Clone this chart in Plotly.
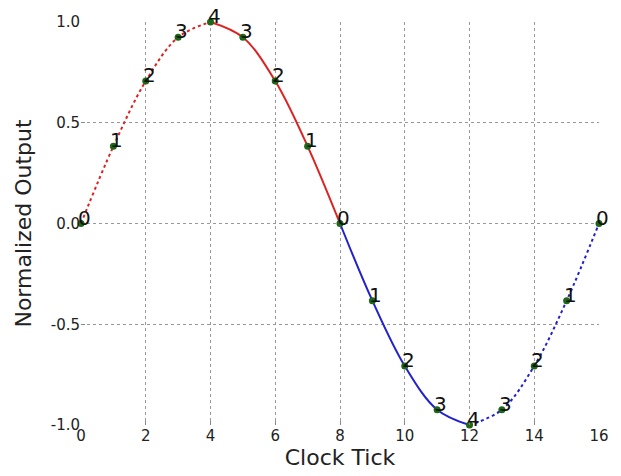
import plotly.graph_objects as go

ticks = list(range(17))
values = [0.0, 0.383, 0.707, 0.924, 1.0, 0.924, 0.707, 0.383, 0.0,
          -0.383, -0.707, -0.924, -1.0, -0.924, -0.707, -0.383, 0.0]
labels = ["0", "1", "2", "3", "4", "3", "2", "1", "0",
          "1", "2", "3", "4", "3", "2", "1", "0"]
segments = [(0, 4, "#dd2222", "dot"), (4, 8, "#dd2222", "solid"),
            (8, 12, "#2222cc", "solid"), (12, 16, "#2222cc", "dot")]

font = "DejaVu Sans, Verdana, sans-serif"
fig = go.Figure()
for a, b, col, dash in segments:
    fig.add_trace(go.Scatter(x=ticks[a:b + 1], y=values[a:b + 1], mode="lines",
                             line=dict(color=col, width=2, dash=dash, shape="spline"),
                             hoverinfo="skip", showlegend=False))
fig.add_trace(go.Scatter(x=ticks, y=values, mode="markers",
                         marker=dict(color="#1e6618", size=7),
                         cliponaxis=False, showlegend=False))
for xv, yv, lab in zip(ticks, values, labels):
    fig.add_annotation(x=xv, y=yv, text=lab, showarrow=False, xanchor="left",
                       yanchor="bottom", xshift=-5, yshift=-8,
                       font=dict(size=20, color="#111", family=font))

fig.update_layout(
    width=621, height=476, margin=dict(l=81, r=18, t=22, b=51),
    plot_bgcolor="white", paper_bgcolor="white",
    font=dict(family=font, color="#222"),
    xaxis=dict(range=[0, 16], tickvals=list(range(0, 17, 2)), showgrid=False,
               zeroline=False, showline=False, ticks="inside", ticklen=4,
               tickcolor="#888", tickfont=dict(size=15),
               minor=dict(tickvals=list(range(2, 16, 2)), showgrid=True,
                          gridcolor="#999", griddash="dot", gridwidth=1),
               title=dict(text="Clock Tick", font=dict(size=22), standoff=4)),
    yaxis=dict(range=[-1, 1], tickvals=[-1.0, -0.5, 0.0, 0.5, 1.0],
               ticktext=["-1.0", "-0.5", "0.0", "0.5", "1.0"], showgrid=False,
               zeroline=False, showline=False, ticks="inside", ticklen=4,
               tickcolor="#888", tickfont=dict(size=15),
               minor=dict(tickvals=[-0.5, 0.0, 0.5], showgrid=True,
                          gridcolor="#999", griddash="dot", gridwidth=1),
               title=dict(text="Normalized Output", font=dict(size=22), standoff=13)),
)
fig.write_html("out.html")
